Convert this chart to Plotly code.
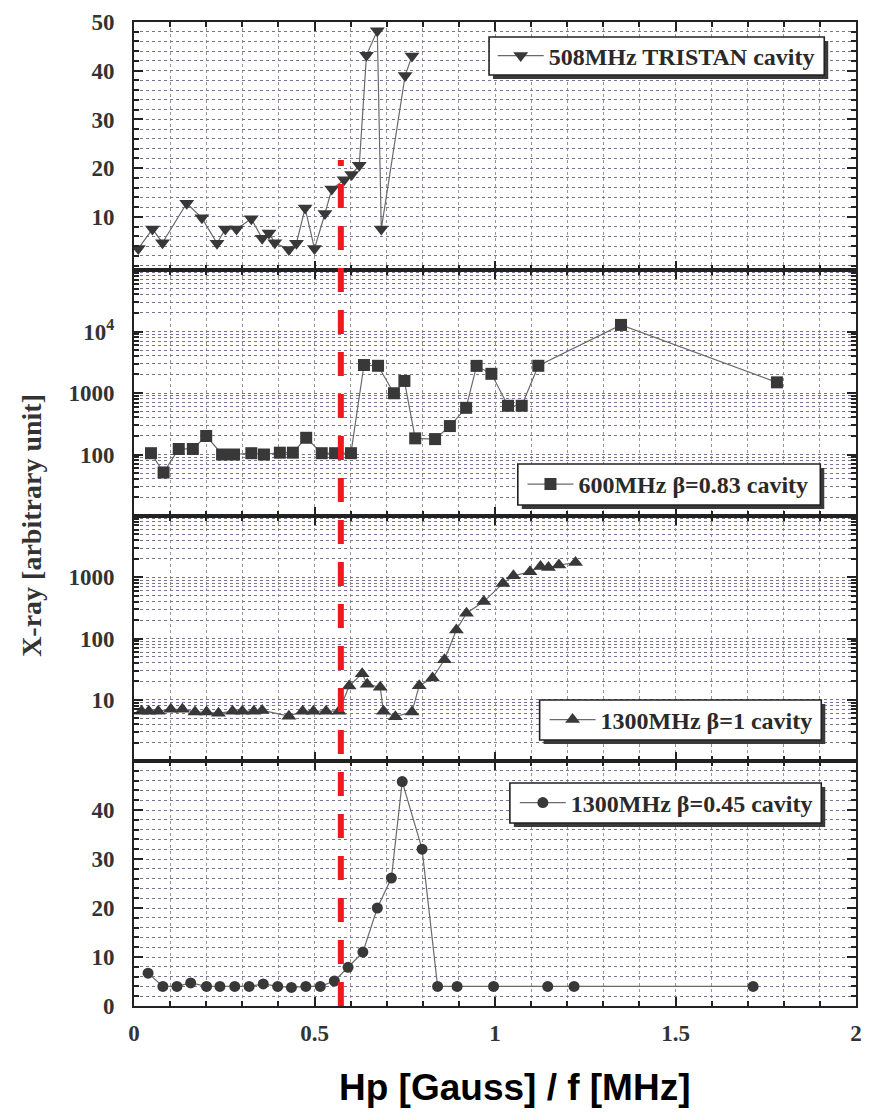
import plotly.graph_objects as go
from plotly.subplots import make_subplots

# ---- data: X-ray intensity vs. Hp/f ----
# 508 MHz TRISTAN cavity (linear scale)
x_tristan = [0.012, 0.051, 0.079, 0.146, 0.188, 0.230, 0.253, 0.284, 0.325, 0.355,
             0.374, 0.390, 0.429, 0.450, 0.474, 0.500, 0.529, 0.548, 0.582, 0.603,
             0.624, 0.644, 0.674, 0.685, 0.751, 0.770]
y_tristan = [3.5, 7.5, 4.7, 12.8, 9.8, 4.6, 7.5, 7.5, 9.6, 5.6,
             6.7, 4.7, 3.3, 4.6, 11.8, 3.5, 10.7, 15.7, 17.6, 18.7,
             20.6, 43.2, 48.2, 7.5, 39.0, 43.0]

# 600 MHz beta=0.83 cavity (log scale)
x_600 = [0.047, 0.082, 0.124, 0.163, 0.200, 0.244, 0.277, 0.325, 0.360, 0.404,
         0.440, 0.477, 0.520, 0.557, 0.601, 0.637, 0.676, 0.720, 0.749, 0.779,
         0.834, 0.875, 0.920, 0.949, 0.990, 1.036, 1.074, 1.120, 1.349, 1.781]
y_600 = [105, 51, 123, 123, 200, 100, 100, 105, 100, 107,
         107, 187, 105, 105, 105, 2850, 2770, 990, 1570, 183,
         178, 290, 574, 2760, 2050, 620, 620, 2770, 12800, 1490]

# 1300 MHz beta=1 cavity (log scale)
x_1300_b1 = [0.021, 0.041, 0.067, 0.102, 0.134, 0.169, 0.201, 0.234, 0.273, 0.300,
             0.332, 0.355, 0.429, 0.467, 0.497, 0.532, 0.568, 0.596, 0.632, 0.646,
             0.682, 0.691, 0.724, 0.770, 0.790, 0.827, 0.860, 0.893, 0.921, 0.969,
             1.022, 1.051, 1.097, 1.126, 1.148, 1.177, 1.223]
y_1300_b1 = [6.5, 6.5, 6.5, 7.0, 7.0, 6.3, 6.3, 6.0, 6.5, 6.5,
             6.5, 6.7, 5.4, 6.5, 6.5, 6.5, 6.5, 16.8, 26.7, 17.9,
             16.0, 6.5, 5.3, 6.3, 17.0, 22.6, 45.0, 138, 258, 400,
             794, 1055, 1230, 1500, 1440, 1580, 1740]

# 1300 MHz beta=0.45 cavity (linear scale)
x_1300_b045 = [0.039, 0.080, 0.119, 0.157, 0.201, 0.238, 0.279, 0.319, 0.358, 0.398,
               0.436, 0.476, 0.516, 0.555, 0.593, 0.634, 0.674, 0.713, 0.743, 0.798,
               0.841, 0.895, 0.996, 1.146, 1.219, 1.715]
y_1300_b045 = [6.7, 4.0, 4.0, 4.7, 4.0, 4.0, 4.0, 4.0, 4.5, 4.0,
               3.8, 4.0, 4.0, 5.1, 7.9, 11.0, 20.0, 26.1, 45.8, 32.0,
               4.0, 4.0, 4.0, 4.0, 4.0, 4.0]

series_names = ["508MHz TRISTAN cavity", "600MHz \u03b2=0.83 cavity",
                "1300MHz \u03b2=1 cavity", "1300MHz \u03b2=0.45 cavity"]

# threshold marker position
x_threshold = 0.573

# tick labels
x_tickvals = [0, 0.5, 1, 1.5, 2]
x_ticktext = ["0", "0.5", "1", "1.5", "2"]
p1_tickvals = [10, 20, 30, 40, 50]
p2_tickvals = [100, 1000, 10000]
p2_ticktext = ["100", "1000", "10<sup>4</sup>"]
p3_tickvals = [10, 100, 1000]
p3_ticktext = ["10", "100", "1000"]
p4_tickvals = [0, 10, 20, 30, 40]

# ---- page geometry (pixels) ----
W, H = 871, 1114
ML, MR, MT, MB = 134, 9, 22, 108
PW, PH = W - ML - MR, H - MT - MB


def px_x(px):
    return (px - ML) / PW


def px_y(py):
    return (H - MB - py) / PH


# ---- styling ----
SERIF = "Liberation Serif, Times New Roman, serif"
INK = "#222222"
GRID_H = "#7f6f98"
GRID_V = "#959595"
MARK = "#383838"
LINE = "#6a6a6a"
tickfont = dict(family=SERIF, size=23, color="#333333", weight="bold")

fig = make_subplots(rows=4, cols=1, shared_xaxes=True, vertical_spacing=0)

symbols = ["triangle-down", "square", "triangle-up", "circle"]
sizes = [13, 12, 13, 11]
data = [(x_tristan, y_tristan), (x_600, y_600), (x_1300_b1, y_1300_b1),
        (x_1300_b045, y_1300_b045)]
legend_ids = ["legend", "legend2", "legend3", "legend4"]

for i, ((xs, ys), name) in enumerate(zip(data, series_names)):
    fig.add_trace(
        go.Scatter(
            x=xs, y=ys, name=name, mode="lines+markers",
            line=dict(color=LINE, width=1.2),
            marker=dict(symbol=symbols[i], size=sizes[i], color=MARK,
                        line=dict(width=0)),
            legend=legend_ids[i], showlegend=True,
        ),
        row=i + 1, col=1,
    )

# panel extents in pixels (top, bottom)
panel_px = [(22, 270), (270, 516), (516, 761), (761, 1006)]

for i in range(4):
    r = i + 1
    fig.update_xaxes(
        range=[0, 2], showline=True, linecolor=INK, linewidth=2, mirror="ticks",
        ticks="inside", ticklen=9, tickwidth=2, tickcolor=INK,
        tickmode="array", tickvals=x_tickvals, ticktext=x_ticktext,
        showgrid=True, gridcolor=GRID_V, griddash="dot", gridwidth=1,
        minor=dict(dtick=0.1, tick0=0, ticks="inside", ticklen=5, tickwidth=1.5,
                   tickcolor=INK, showgrid=True, gridcolor=GRID_V,
                   griddash="dot", gridwidth=1),
        showticklabels=(r == 4), tickfont=tickfont, ticklabelstandoff=5,
        zeroline=False,
        row=r, col=1,
    )
    top, bot = panel_px[i]
    fig.update_yaxes(domain=[px_y(bot), px_y(top)], row=r, col=1)

common_y = dict(
    showline=True, linecolor=INK, linewidth=2, mirror="ticks",
    ticks="inside", ticklen=9, tickwidth=2, tickcolor=INK,
    showgrid=True, gridcolor=GRID_H, griddash="dot", gridwidth=1,
    tickfont=tickfont, ticklabelstandoff=13, zeroline=False,
)
minor_lin = dict(dtick=2, tick0=0, ticks="inside", ticklen=5, tickwidth=1.5,
                 tickcolor=INK, showgrid=True, gridcolor=GRID_H,
                 griddash="dot", gridwidth=1)


def log_minor(decades):
    return [k * 10 ** d for d in decades for k in range(2, 10)]


def minor_log(decades):
    return dict(tickmode="array", tickvals=log_minor(decades),
                ticks="inside", ticklen=5, tickwidth=1.5, tickcolor=INK,
                showgrid=True, gridcolor=GRID_H, griddash="dot", gridwidth=1)


fig.update_yaxes(range=[-0.9, 50], tickmode="array", tickvals=p1_tickvals,
                 minor=minor_lin, row=1, col=1, **common_y)
fig.update_yaxes(type="log", range=[1, 5], tickmode="array",
                 tickvals=p2_tickvals, ticktext=p2_ticktext,
                 minor=minor_log([1, 2, 3, 4]), row=2, col=1, **common_y)
fig.update_yaxes(type="log", range=[0, 4], tickmode="array",
                 tickvals=p3_tickvals, ticktext=p3_ticktext,
                 minor=minor_log([0, 1, 2, 3]), row=3, col=1, **common_y)
fig.update_yaxes(range=[0, 50], tickmode="array", tickvals=p4_tickvals,
                 minor=minor_lin, row=4, col=1, **common_y)

# red dashed threshold line through all panels
fig.add_shape(type="line", xref="x4", yref="paper",
              x0=x_threshold, x1=x_threshold, y0=0, y1=px_y(160),
              line=dict(color="#f01818", width=6, dash="24px,18px"),
              layer="above")

# legend frames with drop shadow: (left, top, right, bottom) in pixels,
# plus the left edge and vertical centre of the legend entry
legend_frames = [
    ((492, 37, 830, 75), 495.7, 56),
    ((521, 464, 826, 505), 525.7, 484.5),
    ((543, 700, 827, 740), 548.0, 720),
    ((513, 783, 827, 823), 518.0, 803),
]
SHADOW = 4

legend_layout = {}
for k, ((x0, y0, x1, y1), lx, ly) in enumerate(legend_frames):
    fig.add_shape(type="rect", xref="paper", yref="paper",
                  x0=px_x(x0 + SHADOW), x1=px_x(x1 + SHADOW),
                  y0=px_y(y1 + SHADOW), y1=px_y(y0 + SHADOW),
                  fillcolor="#3a3a3a", line=dict(width=0), layer="above")
    fig.add_shape(type="rect", xref="paper", yref="paper",
                  x0=px_x(x0), x1=px_x(x1), y0=px_y(y1), y1=px_y(y0),
                  fillcolor="white", line=dict(color=INK, width=1.6),
                  layer="above")
    legend_layout[legend_ids[k]] = dict(
        x=px_x(lx), y=px_y(ly), xanchor="left", yanchor="middle",
        bgcolor="rgba(0,0,0,0)", borderwidth=0,
        font=dict(family=SERIF, size=24, color="#2a2a2a", weight="bold"),
        itemwidth=46,
    )

fig.update_layout(
    width=W, height=H,
    margin=dict(l=ML, r=MR, t=MT, b=MB),
    paper_bgcolor="white", plot_bgcolor="white",
    **legend_layout,
)

# axis titles
fig.add_annotation(
    text="X-ray [arbitrary unit]", textangle=-90, showarrow=False,
    xref="paper", yref="paper", x=px_x(30), y=px_y(525),
    xanchor="center", yanchor="middle",
    font=dict(family=SERIF, size=28, color="#333333", weight="bold"),
)
fig.add_annotation(
    text="Hp [Gauss] / f [MHz]", showarrow=False,
    xref="paper", yref="paper", x=px_x(518), y=px_y(1087),
    xanchor="center", yanchor="middle",
    font=dict(family="Liberation Sans, Arial, sans-serif",
              size=37, color="black", weight="bold"),
)

fig.write_html("out.html")
